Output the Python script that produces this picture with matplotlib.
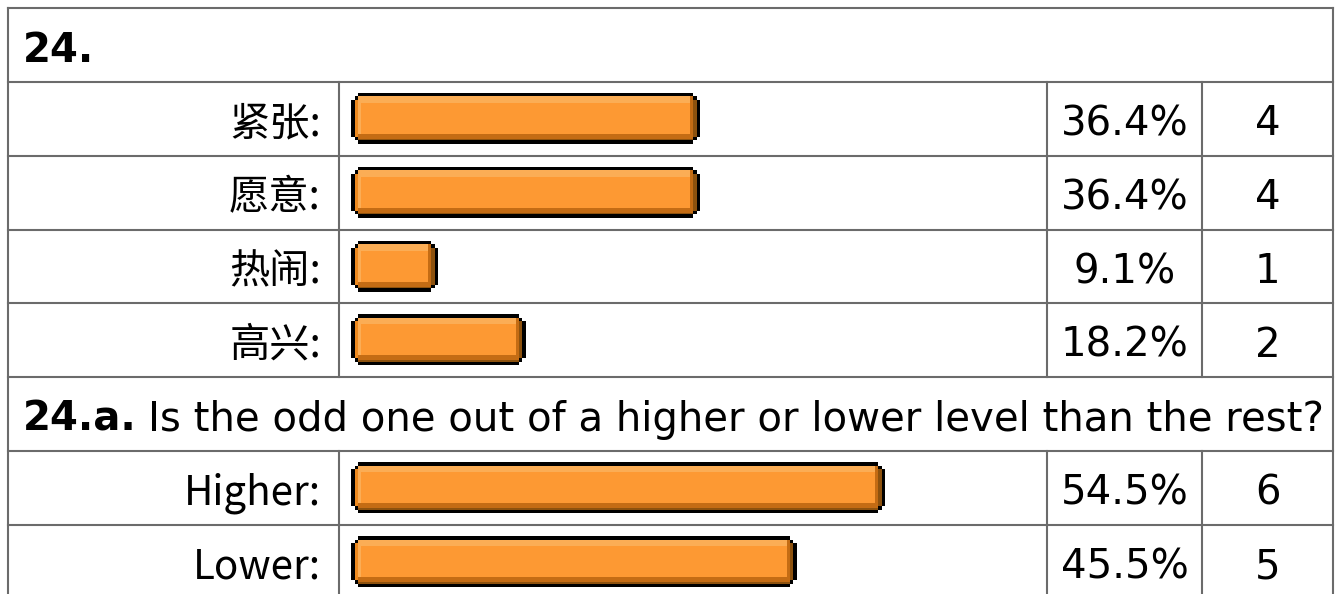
import matplotlib
matplotlib.use('Agg')
import matplotlib.pyplot as plt
from matplotlib.patches import Polygon, Rectangle

###############################################################################
# Data
###############################################################################
Q1_TITLE = '24.'
Q1_LABELS = ['紧张:', '愿意:', '热闹:', '高兴:']
Q1_PCT = [36.4, 36.4, 9.1, 18.2]
Q1_CNT = [4, 4, 1, 2]

Q2_TITLE = '24.a.'
Q2_TEXT = 'Is the odd one out of a higher or lower level than the rest?'
Q2_LABELS = ['Higher:', 'Lower:']
Q2_PCT = [54.5, 45.5]
Q2_CNT = [6, 5]

###############################################################################
# Layout (pixels)
###############################################################################
(W, H) = (1335, 594)
(X_L, X_R) = (8, 1333)
(X_LAB, X_PCT, X_CNT) = (339, 1047, 1202)
Y_TOP = 8
ROW_H = (525 - 8) / 7
BAR_X0 = 351
BAR_PAD = 11
BAR_H = 51
PX_PER_PCT = {'q1': 9.6, 'q2': 9.8}
GRID = '#6b6b6b'
FS = 29
CJK = ['Noto Sans CJK SC', 'DejaVu Sans']

C_MAIN = '#fd9933'
C_LIGHT = '#fbad55'
C_LEFT = '#ef8a1f'
C_DARK = '#c46c14'
C_DARKER = '#8d520e'


def box(ax, xa, ya, xb, yb, c):
    ax.add_patch(Rectangle((xa, ya), xb - xa, yb - ya, fc=c, ec='none',
                           antialiased=False))


def draw_bar(ax, x0, y0, w, h):
    x1 = x0 + w
    y1 = y0 + h
    s = 3.5
    outline = [
        (x0 + 2 * s, y0), (x1 - 2 * s, y0), (x1 - 2 * s, y0 + s),
        (x1 - s, y0 + s), (x1 - s, y0 + 2 * s), (x1, y0 + 2 * s),
        (x1, y1 - 2 * s), (x1 - s, y1 - 2 * s), (x1 - s, y1 - s),
        (x1 - 2 * s, y1 - s), (x1 - 2 * s, y1), (x0 + 2 * s, y1),
        (x0 + 2 * s, y1 - s), (x0 + s, y1 - s), (x0 + s, y1 - 2 * s),
        (x0, y1 - 2 * s), (x0, y0 + 2 * s), (x0 + s, y0 + 2 * s),
        (x0 + s, y0 + s), (x0 + 2 * s, y0 + s),
    ]
    ax.add_patch(Polygon(outline, closed=True, fc='#000000', ec='none',
                         antialiased=False))
    # body (cross shape leaves the corner steps black)
    box(ax, x0 + 2 * s, y0 + s, x1 - 2 * s, y1 - s, C_MAIN)
    box(ax, x0 + s, y0 + 2 * s, x1 - s, y1 - 2 * s, C_MAIN)
    # left edge
    box(ax, x0 + s, y0 + 2 * s, x0 + 2 * s, y1 - 2 * s, C_LEFT)
    box(ax, x0 + 2 * s, y0 + s, x0 + 2 * s + 2.5, y1 - 10, C_LIGHT)
    # top highlight
    box(ax, x0 + 2 * s, y0 + s, x1 - 10, y0 + 10, C_LIGHT)
    # bottom shade
    box(ax, x0 + 2 * s, y1 - 10, x1 - 2 * s, y1 - 5, C_DARK)
    box(ax, x0 + 2 * s, y1 - 5, x1 - 2 * s, y1 - s, C_DARKER)
    # right shade
    box(ax, x1 - 10, y0 + s, x1 - 2 * s, y1 - 5, C_DARK)
    box(ax, x1 - 2 * s, y0 + 2 * s, x1 - s, y1 - 2 * s, C_DARKER)


###############################################################################
# Plot
###############################################################################
fig = plt.figure(figsize=(W / 100, H / 100), dpi=100)
ax = fig.add_axes([0, 0, 1, 1])
ax.set_xlim(0, W)
ax.set_ylim(H, 0)
ax.axis('off')

lw = 1.5
rows = (
    [('title', Q1_TITLE, None)]
    + [('data', i, 'q1') for i in range(len(Q1_LABELS))]
    + [('title', Q2_TITLE, Q2_TEXT)]
    + [('data', i, 'q2') for i in range(len(Q2_LABELS))]
)

# outer border
ax.plot([X_L, X_L], [Y_TOP, H + 5], color=GRID, lw=lw)
ax.plot([X_R, X_R], [Y_TOP, H + 5], color=GRID, lw=lw)

for (r, row) in enumerate(rows):
    top = Y_TOP + r * ROW_H
    bot = top + ROW_H
    base = top + 53.5
    ax.plot([X_L, X_R], [top, top], color=GRID, lw=lw)
    if row[0] == 'title':
        t = ax.text(23, base, row[1], fontsize=FS, fontweight='bold',
                    ha='left', va='baseline', family='DejaVu Sans')
        if row[2]:
            fig.canvas.draw()
            bb = t.get_window_extent()
            (xe, _) = ax.transData.inverted().transform((bb.x1, bb.y0))
            ax.text(xe + 11, base, row[2], fontsize=FS, ha='left',
                    va='baseline', family='DejaVu Sans')
        continue
    (_, i, q) = row
    (labels, pcts, cnts) = (
        (Q1_LABELS, Q1_PCT, Q1_CNT) if q == 'q1'
        else (Q2_LABELS, Q2_PCT, Q2_CNT)
    )
    y_end = min(bot, H + 5)
    for x in (X_LAB, X_PCT, X_CNT):
        ax.plot([x, x], [top, y_end], color=GRID, lw=lw)
    ax.text(321, base, labels[i], fontsize=FS, ha='right', va='baseline',
            family=CJK)
    draw_bar(ax, BAR_X0, top + BAR_PAD, pcts[i] * PX_PER_PCT[q], BAR_H)
    ax.text((X_PCT + X_CNT) / 2, base, '%.1f%%' % pcts[i], fontsize=FS,
            ha='center', va='baseline', family='DejaVu Sans')
    ax.text((X_CNT + X_R) / 2, base, str(cnts[i]), fontsize=FS,
            ha='center', va='baseline', family='DejaVu Sans')

fig.savefig('out.png', dpi=100)
plt.close('all')
